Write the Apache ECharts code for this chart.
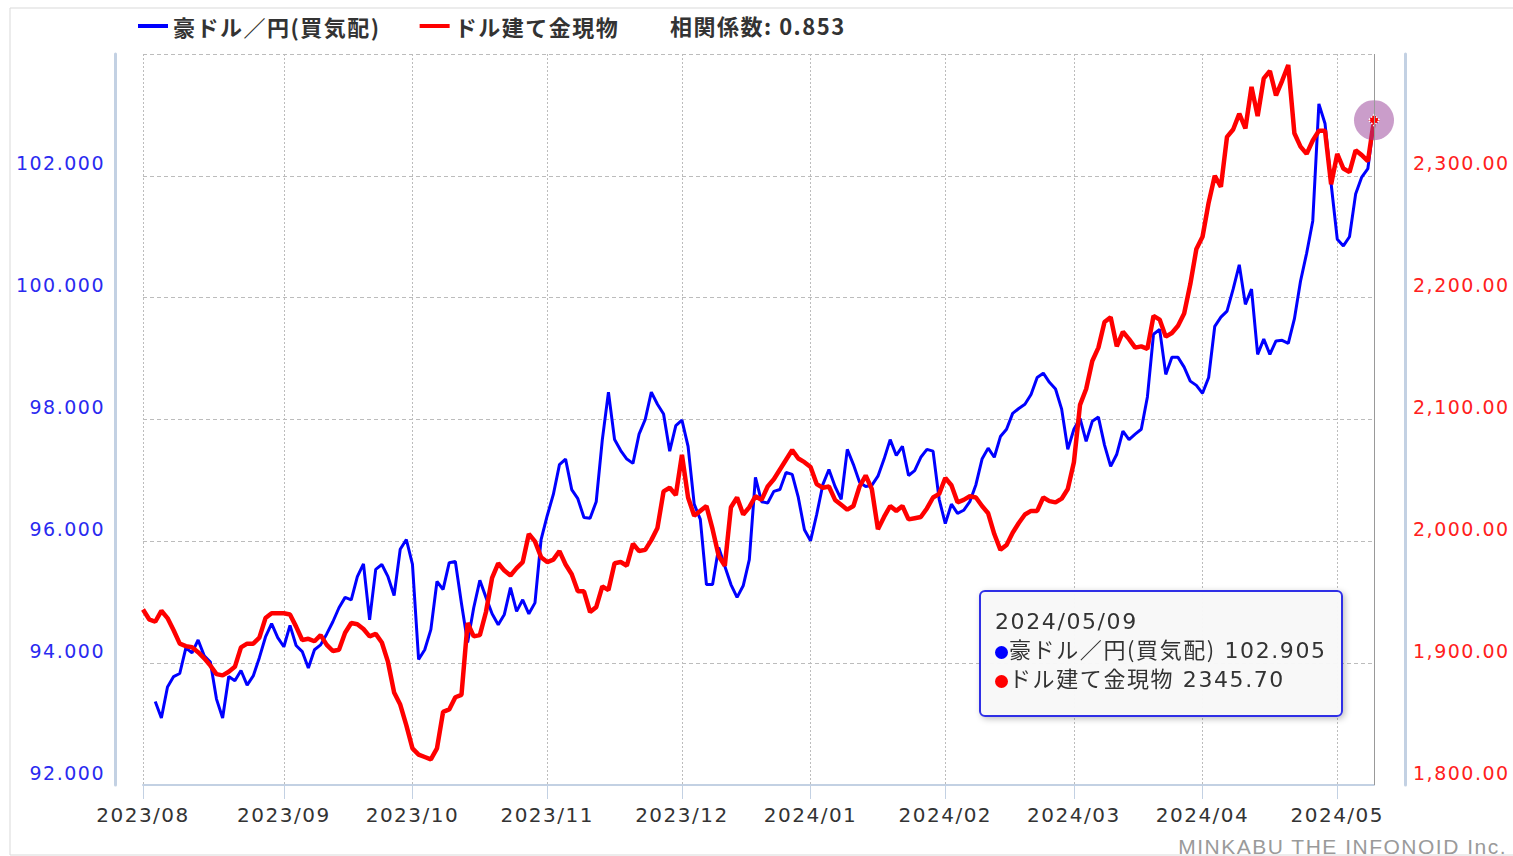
<!DOCTYPE html>
<html>
<head>
<meta charset="utf-8">
<style>
html, body { margin: 0; padding: 0; background: #fff; }
#main { width: 1513px; height: 856px; }
#main svg text { letter-spacing: 1.5px; }
.tip-line { height: 30px; line-height: 30px; white-space: nowrap; }
.tip-line.sr { height: 29px; position: relative; top: -4px; }
.tip-dot { display: inline-block; width: 13px; height: 13px; border-radius: 7px; margin-right: 1px; vertical-align: -1px; }
</style>
<script src="https://cdn.jsdelivr.net/npm/echarts@6/dist/echarts.min.js"></script>
</head>
<body>
<div id="main"></div>
<script>
// 取引日 (月ごと)
var months = ['2023/08', '2023/09', '2023/10', '2023/11', '2023/12', '2024/01', '2024/02', '2024/03', '2024/04', '2024/05'];
var tradingDays = [
  [1, 2, 3, 4, 7, 8, 9, 10, 11, 14, 15, 16, 17, 18, 21, 22, 23, 24, 25, 28, 29, 30, 31],
  [1, 4, 5, 6, 7, 8, 11, 12, 13, 14, 15, 18, 19, 20, 21, 22, 25, 26, 27, 28, 29],
  [2, 3, 4, 5, 6, 9, 10, 11, 12, 13, 16, 17, 18, 19, 20, 23, 24, 25, 26, 27, 30, 31],
  [1, 2, 3, 6, 7, 8, 9, 10, 13, 14, 15, 16, 17, 20, 21, 22, 23, 24, 27, 28, 29, 30],
  [1, 4, 5, 6, 7, 8, 11, 12, 13, 14, 15, 18, 19, 20, 21, 22, 25, 26, 27, 28, 29],
  [2, 3, 4, 5, 8, 9, 10, 11, 12, 15, 16, 17, 18, 19, 22, 23, 24, 25, 26, 29, 30, 31],
  [1, 2, 5, 6, 7, 8, 9, 12, 13, 14, 15, 16, 19, 20, 21, 22, 23, 26, 27, 28, 29],
  [1, 4, 5, 6, 7, 8, 11, 12, 13, 14, 15, 18, 19, 20, 21, 22, 25, 26, 27, 28, 29],
  [1, 2, 3, 4, 5, 8, 9, 10, 11, 12, 15, 16, 17, 18, 19, 22, 23, 24, 25, 26, 29, 30],
  [1, 2, 3, 6, 7, 8, 9]
];

// 豪ドル／円(買気配)
var audJpy = [
  null, null, 93.37, 93.10, 93.61, 93.78, 93.83, 94.25, 94.17, 94.38,
  94.12, 94.02, 93.41, 93.10, 93.78, 93.71, 93.88, 93.64, 93.79, 94.09,
  94.43, 94.65, 94.42, 94.27, 94.62, 94.29, 94.19, 93.92, 94.22, 94.30,
  94.48, 94.68, 94.91, 95.08, 95.04, 95.42, 95.63, 94.71, 95.54, 95.62,
  95.42, 95.11, 95.87, 96.03, 95.62, 94.06, 94.22, 94.55, 95.34, 95.21,
  95.65, 95.67, 94.98, 94.34, 94.91, 95.36, 95.08, 94.81, 94.63, 94.80,
  95.24, 94.85, 95.04, 94.81, 94.99, 96.03, 96.42, 96.77, 97.26, 97.35,
  96.85, 96.70, 96.39, 96.38, 96.65, 97.67, 98.45, 97.67, 97.49, 97.35,
  97.28, 97.76, 98.00, 98.45, 98.25, 98.09, 97.48, 97.90, 97.99, 97.56,
  96.61, 96.36, 95.29, 95.29, 95.90, 95.59, 95.29, 95.08, 95.27, 95.70,
  97.05, 96.65, 96.63, 96.82, 96.85, 97.13, 97.10, 96.72, 96.19, 96.01,
  96.44, 96.93, 97.18, 96.90, 96.69, 97.51, 97.26, 96.97, 96.90, 96.92,
  97.07, 97.35, 97.67, 97.41, 97.56, 97.08, 97.16, 97.38, 97.51, 97.48,
  96.69, 96.29, 96.61, 96.46, 96.51, 96.65, 96.93, 97.35, 97.53, 97.38,
  97.72, 97.84, 98.10, 98.18, 98.25, 98.41, 98.69, 98.76, 98.61, 98.50,
  98.17, 97.51, 97.84, 98.02, 97.64, 97.97, 98.04, 97.58, 97.23, 97.43,
  97.81, 97.67, 97.76, 97.84, 98.37, 99.40, 99.48, 98.74, 99.02, 99.02,
  98.86, 98.63, 98.56, 98.43, 98.69, 99.53, 99.68, 99.78, 100.14, 100.54,
  99.89, 100.14, 99.07, 99.32, 99.07, 99.29, 99.30, 99.25, 99.65, 100.27,
  100.73, 101.26, 103.18, 102.86, 101.87, 100.96, 100.85, 101.00, 101.70, 101.98,
  102.12, 102.905
];

// ドル建て金現物
var gold = [
  1944, 1936, 1934, 1943, 1937, 1927, 1916, 1914, 1913, 1909,
  1904, 1898, 1891, 1890, 1893, 1897, 1913, 1916, 1916, 1921,
  1937, 1941, 1941, 1941, 1940, 1930, 1919, 1920, 1918, 1923,
  1915, 1910, 1911, 1925, 1933, 1932, 1928, 1922, 1924, 1917,
  1901, 1876, 1866, 1849, 1830, 1825, 1823, 1821, 1830, 1860,
  1862, 1872, 1874, 1933, 1922, 1923, 1942, 1970, 1982, 1976,
  1972, 1978, 1983, 2006, 2000, 1987, 1983, 1985, 1992, 1981,
  1973, 1959, 1959, 1942, 1946, 1963, 1960, 1982, 1983, 1980,
  1998, 1992, 1993, 2001, 2011, 2041, 2044, 2038, 2071, 2036,
  2021, 2025, 2029, 2010, 1988, 1980, 2028, 2036, 2022, 2028,
  2037, 2034, 2045, 2051, 2059, 2067, 2075, 2068, 2065, 2061,
  2047, 2044, 2045, 2034, 2030, 2026, 2029, 2045, 2054, 2043,
  2010, 2020, 2029, 2025, 2029, 2018, 2019, 2020, 2027, 2036,
  2039, 2052, 2046, 2032, 2034, 2037, 2036, 2029, 2023, 2006,
  1993, 1997, 2007, 2015, 2022, 2025, 2025, 2036, 2033, 2032,
  2035, 2043, 2065, 2112, 2125, 2148, 2159, 2180, 2184, 2160,
  2172, 2166, 2159, 2160, 2158, 2185, 2182, 2168, 2171, 2177,
  2187, 2211, 2240, 2250, 2278, 2300, 2291, 2332, 2338, 2351,
  2339, 2373, 2349, 2380, 2386, 2366, 2378, 2391, 2335, 2324,
  2318, 2329, 2337, 2337, 2293, 2318, 2306, 2303, 2321, 2317,
  2312, 2345.70
];

var seriesNames = ['豪ドル／円(買気配)', 'ドル建て金現物'];
var correlation = '相関係数: 0.853';
var credit = 'MINKABU THE INFONOID Inc.';

var dates = [];
var monthStart = {};
months.forEach(function (m, mi) {
  monthStart[dates.length] = true;
  tradingDays[mi].forEach(function (d) {
    dates.push(m + '/' + (d < 10 ? '0' + d : d));
  });
});
var last = dates.length - 1;

var isMonthStart = function (idx) { return !!monthStart[idx]; };
var numFont = '"DejaVu Sans", sans-serif';
var jpFont = '"Noto Sans CJK JP", "Noto Sans", sans-serif';
var axisBlue = '#c3d1e3';
var gridGray = '#bcbcbc';

var myChart = echarts.init(document.getElementById('main'), null, { renderer: 'svg' });
myChart.setOption({
  animation: false,
  backgroundColor: '#fff',
  grid: { left: 143, right: 139, top: 54, bottom: 71 },
  legend: {
    left: 133, top: 10,
    icon: 'rect', itemWidth: 30, itemHeight: 4, itemGap: 54,
    textStyle: { color: '#333', fontSize: 22, fontFamily: jpFont, fontWeight: 'bold' },
    data: seriesNames
  },
  graphic: [
    { type: 'rect', silent: true, shape: { x: 10, y: 8, width: 1510, height: 847 },
      style: { fill: null, stroke: '#d9d9d9', lineWidth: 1 } },
    { type: 'text', left: 670, top: 14,
      style: { text: correlation, fill: '#333', font: 'bold 22px ' + jpFont } },
    { type: 'text', x: 1507, y: 846, silent: true,
      style: { text: credit, align: 'right', verticalAlign: 'middle', fill: '#9a9a9a', font: '21px "Liberation Sans", Arial, sans-serif' } }
  ],
  tooltip: {
    trigger: 'axis',
    alwaysShowContent: true,
    position: [979, 590],
    backgroundColor: 'rgba(248,248,248,0.96)',
    borderColor: '#2f2fe6',
    borderWidth: 2,
    padding: [15, 14],
    axisPointer: { type: 'line', lineStyle: { color: '#999', width: 1, type: 'solid' } },
    extraCssText: 'border-radius:6px;box-shadow:2px 2px 6px rgba(0,0,0,0.25);width:364px;height:127px;box-sizing:border-box;',
    formatter: function (params) {
      var html = '<div style="font-size:22px;letter-spacing:1.6px;color:#333;font-family:\'DejaVu Sans\',sans-serif;">' +
        '<div class="tip-line">' + params[0].axisValue + '</div>';
      params.forEach(function (p) {
        var v = p.seriesIndex === 0 ? p.value.toFixed(3) : p.value.toFixed(2);
        html += '<div class="tip-line sr"><span class="tip-dot" style="background:' + p.color + ';"></span>' +
          '<span style="font-family:\'Noto Sans CJK JP\',sans-serif;">' + p.seriesName + '</span> ' + v + '</div>';
      });
      return html + '</div>';
    }
  },
  xAxis: {
    type: 'category',
    boundaryGap: false,
    data: dates,
    axisLine: { lineStyle: { color: axisBlue, width: 2 } },
    axisTick: { interval: isMonthStart, length: 14, lineStyle: { color: axisBlue, width: 1 } },
    axisLabel: {
      interval: isMonthStart, margin: 20, color: '#333', fontSize: 20, fontFamily: numFont,
      formatter: function (v) { return v.slice(0, 7); }
    },
    splitLine: { show: true, interval: isMonthStart, lineStyle: { color: gridGray, type: [2, 2] } }
  },
  yAxis: [{
    type: 'value', position: 'left', offset: 28,
    min: 92, max: 104, interval: 2,
    axisLine: { show: true, lineStyle: { color: axisBlue, width: 3 } },
    axisTick: { show: false },
    axisLabel: {
      showMaxLabel: false, margin: 10, verticalAlign: 'bottom', lineHeight: 25, color: '#2a2af0', fontSize: 19, fontFamily: numFont,
      formatter: function (v) { return v.toFixed(3); }
    },
    splitLine: { lineStyle: { color: gridGray, type: [4, 3] } }
  }, {
    type: 'value', position: 'right', offset: 31,
    min: 1800, max: 2400, interval: 100,
    axisLine: { show: true, lineStyle: { color: axisBlue, width: 3 } },
    axisTick: { show: false },
    axisLabel: {
      showMaxLabel: false, margin: 8, verticalAlign: 'bottom', lineHeight: 25, color: '#ff2020', fontSize: 19, fontFamily: numFont,
      formatter: function (v) { return v.toLocaleString('en-US', { minimumFractionDigits: 2 }); }
    },
    splitLine: { show: false }
  }],
  series: [{
    name: seriesNames[0],
    type: 'line',
    yAxisIndex: 0,
    data: audJpy,
    showSymbol: false,
    color: '#0000ff',
    lineStyle: { width: 3, color: '#0000ff' },
    z: 2
  }, {
    name: seriesNames[1],
    type: 'line',
    yAxisIndex: 1,
    data: gold,
    showSymbol: false,
    color: '#ff0000',
    lineStyle: { width: 4.5, color: '#ff0000' },
    z: 3,
    markPoint: {
      silent: true,
      label: { show: false },
      data: [
        { coord: [dates[last], gold[last]], symbol: 'circle', symbolSize: 40, itemStyle: { color: 'rgba(150,60,150,0.5)' } },
        { coord: [dates[last], gold[last]], symbol: 'diamond', symbolSize: 11, itemStyle: { color: '#ff0000', borderColor: '#fff', borderWidth: 1.5, borderType: 'dotted' } }
      ]
    }
  }]
});

myChart.dispatchAction({ type: 'showTip', seriesIndex: 1, dataIndex: last });
</script>
</body>
</html>
